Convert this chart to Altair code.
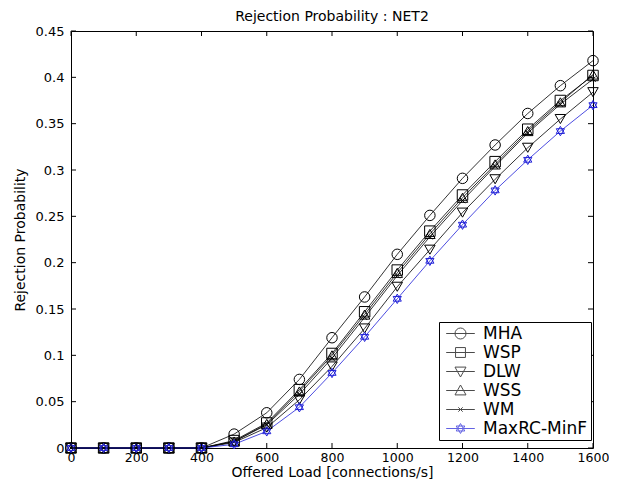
import altair as alt
import pandas as pd

# ---- data ----
loads = [0, 100, 200, 300, 400, 500, 600, 700, 800, 900, 1000, 1100, 1200, 1300, 1400, 1500, 1600]
series_names = ["MHA", "WSP", "DLW", "WSS", "WM", "MaxRC-MinF"]
mha = [0, 0, 0, 0, 0, 0.015, 0.038, 0.074, 0.119, 0.163, 0.209, 0.251, 0.291, 0.327, 0.361, 0.391, 0.418]
wsp = [0, 0, 0, 0, 0, 0.008, 0.027, 0.063, 0.102, 0.147, 0.192, 0.234, 0.273, 0.309, 0.344, 0.375, 0.402]
dlw = [0, 0, 0, 0, 0, 0.006, 0.022, 0.052, 0.088, 0.129, 0.174, 0.214, 0.254, 0.290, 0.324, 0.355, 0.384]
wss = [0, 0, 0, 0, 0, 0.007, 0.026, 0.061, 0.100, 0.144, 0.189, 0.231, 0.270, 0.306, 0.342, 0.373, 0.403]
wm = [0, 0, 0, 0, 0, 0.007, 0.025, 0.058, 0.097, 0.141, 0.186, 0.228, 0.267, 0.304, 0.340, 0.371, 0.398]
maxrc = [0, 0, 0, 0, 0, 0.004, 0.018, 0.044, 0.081, 0.120, 0.161, 0.202, 0.241, 0.278, 0.311, 0.342, 0.370]
x_ticks = [0, 200, 400, 600, 800, 1000, 1200, 1400, 1600]
y_ticks = [0, 0.05, 0.1, 0.15, 0.2, 0.25, 0.3, 0.35, 0.4, 0.45]

rows = []
for name, vals in zip(series_names, [mha, wsp, dlw, wss, wm, maxrc]):
    for l, v in zip(loads, vals):
        rows.append({"load": l, "prob": v, "series": name})
df = pd.DataFrame(rows)
xt_df = pd.DataFrame({"load": x_ticks})
yt_df = pd.DataFrame({"prob": y_ticks})

W, H = 522, 417
FONT = "DejaVu Sans"
colors = ["black", "black", "black", "black", "black", "#2020d8"]
marker_shapes = [
    "circle",
    "square",
    "triangle-down",
    "triangle-up",
    "M-0.5,-0.5L0.5,0.5M-0.5,0.5L0.5,-0.5",
    "M0,-0.9L0.78,0.45L-0.78,0.45Z M0,0.9L0.78,-0.45L-0.78,-0.45Z",
]
legend_shapes = [
    "M-2.6,0L2.6,0 M1,0A1,1,0,1,1,-1,0A1,1,0,1,1,1,0",
    "M-2.6,0L2.6,0 M-0.9,-0.9L0.9,-0.9L0.9,0.9L-0.9,0.9Z",
    "M-2.6,0L2.6,0 M-1,-0.8L1,-0.8L0,1Z",
    "M-2.6,0L2.6,0 M-1,0.8L1,0.8L0,-1Z",
    "M-2.6,0L2.6,0 M-0.4,-0.4L0.4,0.4M-0.4,0.4L0.4,-0.4",
    "M-2.6,0L2.6,0 M0,-0.9L0.78,0.45L-0.78,0.45Z M0,0.9L0.78,-0.45L-0.78,-0.45Z",
]

x_enc = alt.X(
    "load:Q",
    scale=alt.Scale(domain=[0, 1600], nice=False, zero=False),
    axis=alt.Axis(
        values=x_ticks, format="d", ticks=False, domain=False, grid=False,
        labelFont=FONT, labelFontSize=12.5, labelColor="black", labelPadding=3,
        labelFlush=False,
        title="Offered Load [connections/s]", titleFont=FONT, titleFontSize=14,
        titleFontWeight="normal", titleColor="black", titlePadding=2,
    ),
)
y_enc = alt.Y(
    "prob:Q",
    scale=alt.Scale(domain=[0, 0.45], nice=False, zero=False),
    axis=alt.Axis(
        values=y_ticks, format="~g", ticks=False, domain=False, grid=False,
        labelFont=FONT, labelFontSize=13, labelColor="black", labelPadding=7,
        labelFlush=False,
        title="Rejection Probability", titleFont=FONT, titleFontSize=14,
        titleFontWeight="normal", titleColor="black", titlePadding=8,
    ),
)

color_scale = alt.Scale(domain=series_names, range=colors)

lines = alt.Chart(df).mark_line(strokeWidth=0.8).encode(
    x=x_enc, y=y_enc,
    color=alt.Color("series:N", scale=color_scale, legend=None),
)

points = alt.Chart(df).mark_point(filled=False, strokeWidth=1, size=110, opacity=1).encode(
    x=x_enc, y=y_enc,
    color=alt.Color("series:N", scale=color_scale, legend=None),
    shape=alt.Shape("series:N", scale=alt.Scale(domain=series_names, range=marker_shapes), legend=None),
)

leg = alt.Legend(
    title=None, orient="none", legendX=368, legendY=291,
    strokeColor="black", fillColor="white", padding=3,
    labelFont=FONT, labelFontSize=17, labelColor="black",
    symbolSize=121, symbolStrokeWidth=1, rowPadding=1,
    symbolOffset=10, labelOffset=14, cornerRadius=0,
)
legend_layer = alt.Chart(df).transform_filter("datum.prob < -1").mark_point(
    filled=False, strokeWidth=1
).encode(
    x=x_enc, y=y_enc,
    color=alt.Color("series:N", scale=color_scale, legend=leg),
    shape=alt.Shape("series:N", scale=alt.Scale(domain=series_names, range=legend_shapes), legend=leg),
)

tick_style = dict(color="black", strokeWidth=1)
bottom_ticks = alt.Chart(xt_df).mark_rule(**tick_style).encode(
    x=x_enc, y=alt.value(H), y2=alt.value(H - 5))
top_ticks = alt.Chart(xt_df).mark_rule(**tick_style).encode(
    x=x_enc, y=alt.value(0), y2=alt.value(5))
left_ticks = alt.Chart(yt_df).mark_rule(**tick_style).encode(
    y=y_enc, x=alt.value(0), x2=alt.value(5))
right_ticks = alt.Chart(yt_df).mark_rule(**tick_style).encode(
    y=y_enc, x=alt.value(W), x2=alt.value(W - 5))

chart = alt.layer(
    lines, points, legend_layer, bottom_ticks, top_ticks, left_ticks, right_ticks
).resolve_scale(
    color="independent", shape="independent"
).properties(
    width=W, height=H,
    autosize=alt.AutoSizeParams(type="none"),
    padding={"left": 63, "top": 23, "right": 16, "bottom": 33},
    title=alt.Title("Rejection Probability : NET2", font=FONT, fontSize=14,
                    fontWeight="normal", color="black", offset=1,
                    frame="group", anchor="middle"),
    background="white",
).configure_view(stroke="black", strokeWidth=1)

chart.save("out.html", embed_options={"renderer": "svg", "actions": False})
